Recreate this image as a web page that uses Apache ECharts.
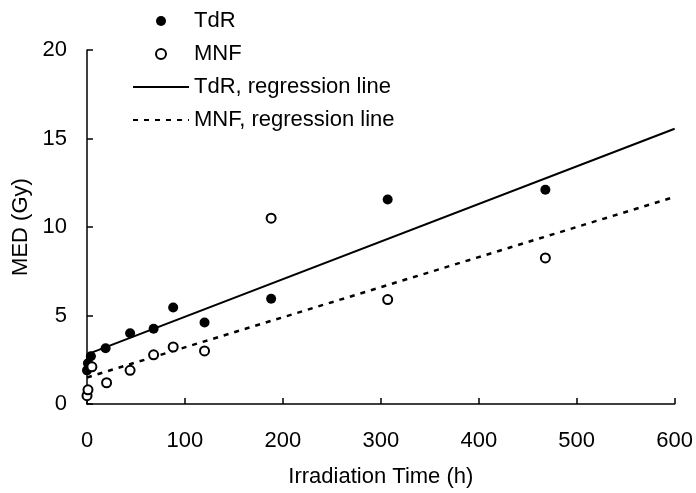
<!DOCTYPE html>
<html>
<head>
<meta charset="utf-8">
<script src="https://cdn.jsdelivr.net/npm/echarts@6/dist/echarts.min.js"></script>
<style>
  html, body { margin: 0; padding: 0; background: #fff; }
  #main { width: 696px; height: 493px; }
</style>
</head>
<body>
<div id="main"></div>
<script>
// ---- data ----
var tdrTime = [0, 1, 4, 19, 44, 68, 88, 120, 188, 307, 468];
var tdrMed  = [1.9, 2.3, 2.7, 3.15, 4.0, 4.25, 5.45, 4.6, 5.95, 11.55, 12.1];
var mnfTime = [0, 1, 5, 20, 44, 68, 88, 120, 188, 307, 468];
var mnfMed  = [0.47, 0.8, 2.1, 1.2, 1.9, 2.78, 3.22, 3.0, 10.5, 5.9, 8.25];
// regression line end points (x, y)
var tdrFitX = [0, 600];
var tdrFitY = [2.8, 15.55];
var mnfFitX = [0, 600];
var mnfFitY = [1.5, 11.7];
var xTicks = [0, 100, 200, 300, 400, 500, 600];
var yTicks = [0, 5, 10, 15, 20];

function renderChart() {
    var dom = document.getElementById('main');
    var myChart = echarts.init(dom);
    var font = "'Liberation Sans', Arial, sans-serif";
    var pairs = function (xs, ys) {
        return xs.map(function (x, i) { return [x, ys[i]]; });
    };

    var option = {
        backgroundColor: '#FFFFFF',
        animation: false,
        textStyle: { fontFamily: font, color: '#000' },
        grid: {
            left: 87,
            right: 21,
            top: 50,
            bottom: 88
        },
        legend: {
            orient: 'vertical',
            left: 127,
            top: 5,
            itemWidth: 56,
            itemHeight: 10,
            itemGap: 11,
            textStyle: { fontSize: 22, color: '#000', fontFamily: font },
            data: [
                'TdR',
                'MNF',
                // hide the symbol dot that the legend puts on line icons
                { name: 'TdR, regression line', itemStyle: { opacity: 0 } },
                { name: 'MNF, regression line', itemStyle: { opacity: 0 } }
            ]
        },
        xAxis: {
            type: 'value',
            min: xTicks[0],
            max: xTicks[xTicks.length - 1],
            interval: xTicks[1] - xTicks[0],
            name: 'Irradiation Time (h)',
            nameLocation: 'middle',
            nameGap: 62,
            nameTextStyle: { fontSize: 22, color: '#000' },
            splitLine: { show: false },
            axisLine: { lineStyle: { color: '#000', width: 1.5 } },
            axisTick: { inside: true, length: 6, lineStyle: { color: '#000', width: 1.5 } },
            axisLabel: { fontSize: 22, color: '#000', margin: 26 }
        },
        yAxis: {
            type: 'value',
            min: yTicks[0],
            max: yTicks[yTicks.length - 1],
            interval: yTicks[1] - yTicks[0],
            name: 'MED (Gy)',
            nameLocation: 'middle',
            nameGap: 52,
            nameTextStyle: { fontSize: 22, color: '#000' },
            splitLine: { show: false },
            axisLine: { show: true, lineStyle: { color: '#000', width: 1.5 } },
            axisTick: { show: true, inside: true, length: 6, lineStyle: { color: '#000', width: 1.5 } },
            axisLabel: { fontSize: 22, color: '#000', margin: 20 }
        },
        series: [
            {
                name: 'TdR',
                type: 'scatter',
                z: 5,
                symbol: 'circle',
                symbolSize: 10,
                itemStyle: { color: '#000', opacity: 1 },
                data: pairs(tdrTime, tdrMed)
            },
            {
                name: 'MNF',
                type: 'scatter',
                z: 5,
                symbol: 'circle',
                symbolSize: 9,
                itemStyle: { color: '#fff', borderColor: '#000', borderWidth: 2, opacity: 1 },
                data: pairs(mnfTime, mnfMed)
            },
            {
                name: 'TdR, regression line',
                type: 'line',
                symbol: 'none',
                z: 2,
                itemStyle: { color: '#000' },
                lineStyle: { color: '#000', width: 2, type: 'solid' },
                data: pairs(tdrFitX, tdrFitY)
            },
            {
                name: 'MNF, regression line',
                type: 'line',
                symbol: 'none',
                z: 2,
                itemStyle: { color: '#000' },
                lineStyle: { color: '#000', width: 2.5, type: [5, 6] },
                data: pairs(mnfFitX, mnfFitY)
            }
        ]
    };

    if (option && typeof option === 'object') {
        myChart.setOption(option);
    }
}
renderChart();
</script>
</body>
</html>
